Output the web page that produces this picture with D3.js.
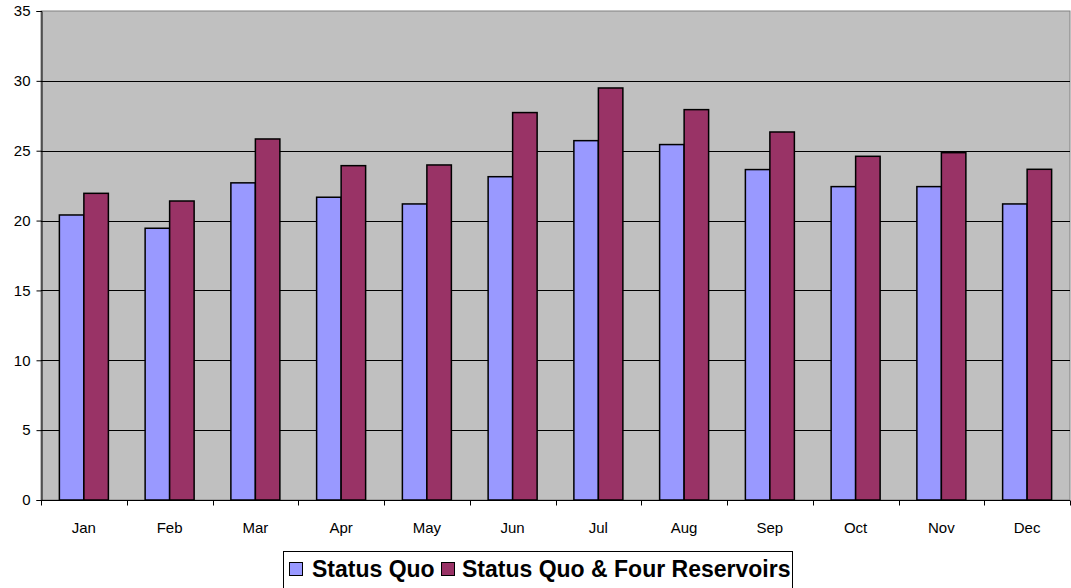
<!DOCTYPE html>
<html>
<head>
<meta charset="utf-8">
<script src="https://cdn.jsdelivr.net/npm/d3@7/dist/d3.min.js"></script>
<style>
  html, body { margin: 0; padding: 0; background: #fff; }
  svg { display: block; font-family: "Liberation Sans", Arial, sans-serif; }
</style>
</head>
<body>
<svg id="chart" width="1071" height="588"></svg>
<script>
// Monthly values for the two scenarios
const months = ["Jan", "Feb", "Mar", "Apr", "May", "Jun", "Jul", "Aug", "Sep", "Oct", "Nov", "Dec"];
const statusQuo = [20.4, 19.45, 22.7, 21.67, 21.19, 23.14, 25.72, 25.44, 23.65, 22.43, 22.43, 21.19];
const fourReservoirs = [21.95, 21.4, 25.84, 23.93, 23.98, 27.73, 29.49, 27.94, 26.34, 24.6, 24.86, 23.67];
const seriesNames = ["Status Quo", "Status Quo & Four Reservoirs"];
const seriesColors = ["#9999ff", "#993366"];
const yTicks = [0, 5, 10, 15, 20, 25, 30, 35];

const svg = d3.select("#chart");
const plot = { left: 41, right: 1070, top: 11, bottom: 500 };

const x = d3.scaleBand().domain(months).range([plot.left, plot.right]).paddingInner(0).paddingOuter(0);
const y = d3.scaleLinear().domain([0, 35]).range([plot.bottom, plot.top]);
// Bars take 2 / 3.5 of each category band, centred
const inner = d3.scaleBand().domain([0, 1]).range([0, x.bandwidth()]).paddingInner(0).paddingOuter(0.75);

// Plot area
svg.append("rect")
  .attr("x", plot.left).attr("y", plot.top)
  .attr("width", plot.right - plot.left).attr("height", plot.bottom - plot.top)
  .attr("fill", "#c0c0c0").attr("stroke", "#808080").attr("stroke-width", 1);

// Horizontal gridlines
svg.append("g").selectAll("line")
  .data(yTicks.filter(t => t > 0 && t < 35))
  .join("line")
  .attr("x1", plot.left).attr("x2", plot.right)
  .attr("y1", d => Math.round(y(d)) + 0.5).attr("y2", d => Math.round(y(d)) + 0.5)
  .attr("stroke", "#000").attr("stroke-width", 1);

// Bars
const groups = svg.append("g").selectAll("g")
  .data(months.map((m, i) => ({ m, vals: [statusQuo[i], fourReservoirs[i]] })))
  .join("g")
  .attr("transform", d => `translate(${x(d.m)},0)`);

groups.selectAll("rect")
  .data(d => d.vals.map((v, k) => ({ v, k })))
  .join("rect")
  .attr("x", d => inner(d.k))
  .attr("width", inner.bandwidth())
  .attr("y", d => y(d.v))
  .attr("height", d => y(0) - y(d.v))
  .attr("fill", d => seriesColors[d.k])
  .attr("stroke", "#000").attr("stroke-width", 1.5);

// Y axis
const yAxis = d3.axisLeft(y).tickValues(yTicks).tickSize(5).tickPadding(6).tickFormat(d3.format("d"));
const gy = svg.append("g").attr("transform", `translate(${plot.left + 0.5},0)`).call(yAxis);
gy.select(".domain").attr("stroke", "#000");
gy.selectAll(".tick line").attr("stroke", "#000");
gy.selectAll(".tick text").attr("font-size", 15).attr("fill", "#000")
  .attr("font-family", "Liberation Sans, Arial, sans-serif");

// X axis: ticks at category boundaries, labels centred
const gx = svg.append("g").attr("transform", `translate(0,${plot.bottom + 0.5})`);
gx.append("line").attr("x1", plot.left).attr("x2", plot.right).attr("stroke", "#000");
gx.selectAll("line.tk")
  .data(months.concat(["end"]))
  .join("line").attr("class", "tk")
  .attr("x1", (d, i) => Math.round(plot.left + i * x.bandwidth()) + 0.5)
  .attr("x2", (d, i) => Math.round(plot.left + i * x.bandwidth()) + 0.5)
  .attr("y1", 0).attr("y2", 5).attr("stroke", "#000");
gx.selectAll("text")
  .data(months)
  .join("text")
  .attr("x", d => x(d) + x.bandwidth() / 2)
  .attr("y", 32)
  .attr("text-anchor", "middle")
  .attr("font-size", 15)
  .attr("fill", "#000")
  .text(d => d);

// Legend
const legend = svg.append("g");
legend.append("rect")
  .attr("x", 283.5).attr("y", 551.5).attr("width", 509).attr("height", 45)
  .attr("fill", "#fff").attr("stroke", "#000").attr("stroke-width", 1);
const legendItems = [{ sx: 289, tx: 312 }, { sx: 441, tx: 462 }];
legendItems.forEach((it, k) => {
  legend.append("rect")
    .attr("x", it.sx + 0.5).attr("y", 562.5).attr("width", 13).attr("height", 13)
    .attr("fill", seriesColors[k]).attr("stroke", "#000").attr("stroke-width", 1);
  legend.append("text")
    .attr("x", it.tx).attr("y", 577)
    .attr("font-size", 23).attr("font-weight", "bold").attr("fill", "#000")
    .text(seriesNames[k]);
});
</script>
</body>
</html>
